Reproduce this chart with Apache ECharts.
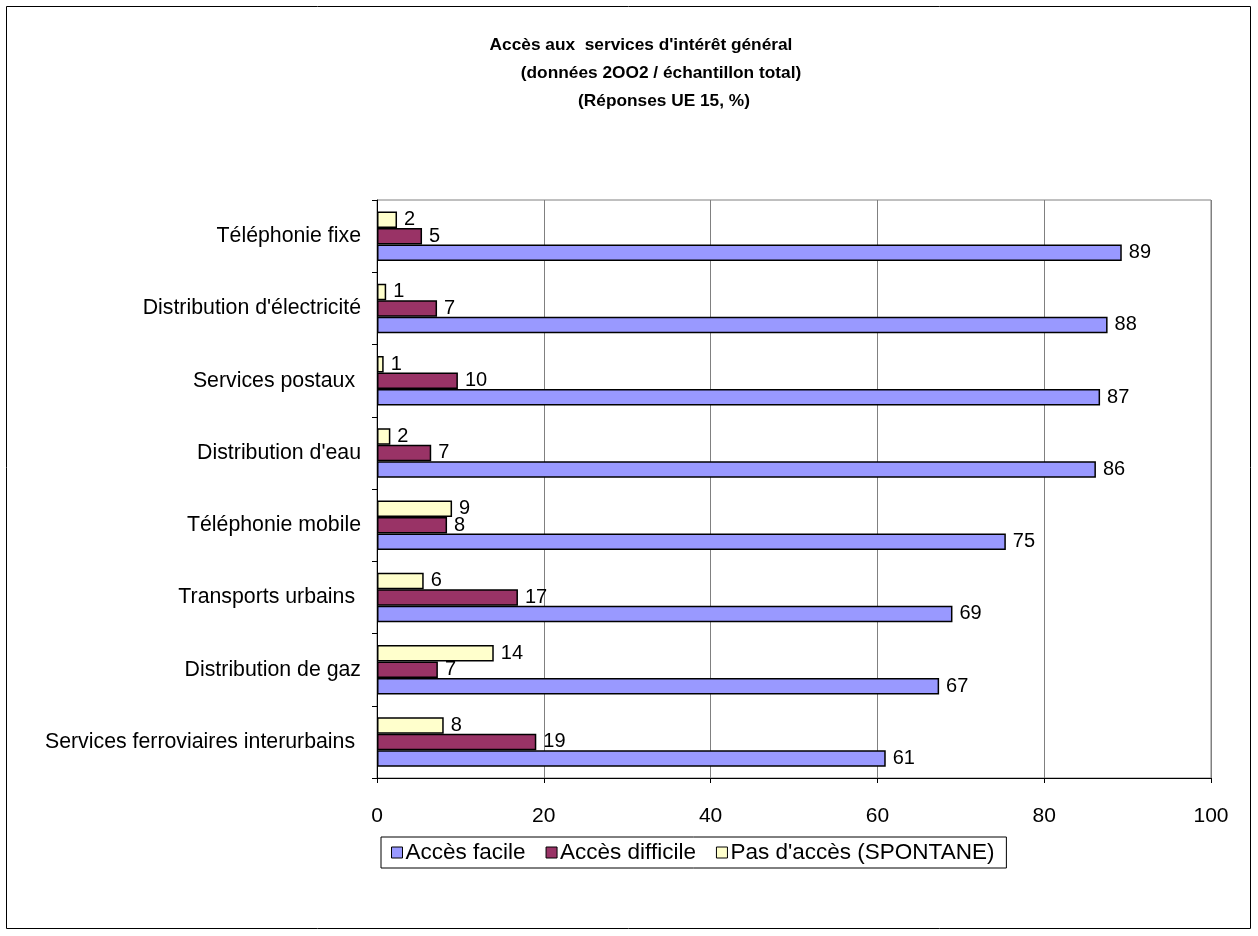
<!DOCTYPE html>
<html>
<head>
<meta charset="utf-8">
<script src="https://cdn.jsdelivr.net/npm/echarts@6/dist/echarts.min.js"></script>
<style>
html,body{margin:0;padding:0;background:#fff;}
#chart{width:1258px;height:936px;}
</style>
</head>
<body>
<div id="chart"></div>
<script>
const categories = ["Téléphonie fixe", "Distribution d'électricité", "Services postaux ", "Distribution d'eau", "Téléphonie mobile", "Transports urbains ", "Distribution de gaz", "Services ferroviaires interurbains "];
const seriesNames = ["Accès facile", "Accès difficile", "Pas d'accès (SPONTANE)"];
const accesFacile = [89.3, 87.6, 86.7, 86.2, 75.4, 69.0, 67.4, 61.0];
const accesDifficile = [5.4, 7.2, 9.7, 6.5, 8.4, 16.9, 7.3, 19.1];
const pasAcces = [2.4, 1.1, 0.8, 1.6, 9.0, 5.6, 14.0, 8.0];
const xTicks = [0, 20, 40, 60, 80, 100];
const titleLines = ["Accès aux  services d'intérêt général", "(données 2OO2 / échantillon total)", "(Réponses UE 15, %)"];

const FONT = "Liberation Sans, Arial, sans-serif";
const chart = echarts.init(document.getElementById('chart'), null, {renderer: 'canvas'});

function mkSeries(name, data, color) {
  return {
    name: name, type: 'bar', data: data,
    barWidth: 16.5, barGap: '0%',
    itemStyle: {color: color, borderColor: '#000', borderWidth: 1.5},
    label: {show: true, position: 'right', distance: 7, color: '#000', fontFamily: FONT, fontSize: 20,
      formatter: p => String(Math.round(p.value))},
    animation: false
  };
}

chart.setOption({
  animation: false,
  backgroundColor: '#fff',
  title: [
    {text: titleLines[0], left: 636, top: 32, textAlign: 'center', textStyle: {fontFamily: FONT, fontSize: 17.3, fontWeight: 'bold', color: '#000'}},
    {text: titleLines[1], left: 656, top: 60, textAlign: 'center', textStyle: {fontFamily: FONT, fontSize: 17.3, fontWeight: 'bold', color: '#000'}},
    {text: titleLines[2], left: 659, top: 88, textAlign: 'center', textStyle: {fontFamily: FONT, fontSize: 17.3, fontWeight: 'bold', color: '#000'}}
  ],
  legend: {
    data: seriesNames,
    left: 381, top: 837,
    padding: [4, 12, 4, 10],
    borderColor: '#000', borderWidth: 1,
    itemWidth: 11, itemHeight: 11, itemGap: 20,
    icon: 'rect',
    itemStyle: {borderColor: '#000', borderWidth: 1},
    textStyle: {fontFamily: FONT, fontSize: 22.5, color: '#000', padding: [0, 0, 0, -2]}
  },
  graphic: [
    {type: 'rect', shape: {x: 6.5, y: 6.5, width: 1244, height: 922}, style: {fill: 'none', stroke: '#000', lineWidth: 1}, silent: true, z: -1}
  ],
  grid: {left: 377, top: 200, width: 834, height: 578, containLabel: false, show: true, borderColor: '#808080', borderWidth: 1},
  xAxis: {
    type: 'value', min: 0, max: 100, interval: 20,
    axisLine: {show: true, lineStyle: {color: '#000', width: 1}},
    axisTick: {show: true, length: 5, lineStyle: {color: '#000'}},
    splitLine: {show: true, lineStyle: {color: '#808080', width: 1}},
    axisLabel: {fontFamily: FONT, fontSize: 21, color: '#000', margin: 28,
      formatter: v => xTicks.includes(v) ? String(v) : ''}
  },
  yAxis: {
    type: 'category', data: categories, inverse: true,
    axisLine: {show: true, lineStyle: {color: '#000', width: 1}},
    axisTick: {show: true, length: 5, lineStyle: {color: '#000'}},
    axisLabel: {fontFamily: FONT, fontSize: 21.3, color: '#000', margin: 16}
  },
  series: [
    mkSeries(seriesNames[2], pasAcces, '#FFFFCC'),
    mkSeries(seriesNames[1], accesDifficile, '#993366'),
    mkSeries(seriesNames[0], accesFacile, '#9999FF')
  ]
});
</script>
</body>
</html>
